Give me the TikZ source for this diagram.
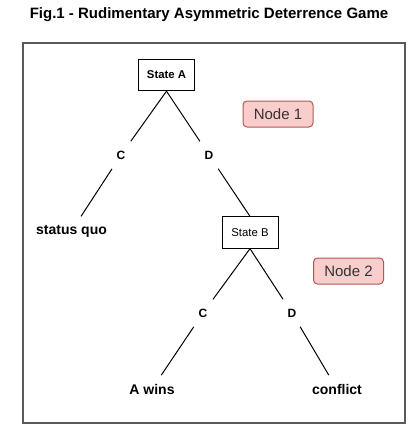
\documentclass[tikz,border=0pt]{standalone}
\usepackage{fontspec}
\setmainfont{Liberation Sans}
\definecolor{tagfill}{HTML}{F8CECC}
\definecolor{tagline}{HTML}{B85450}
\definecolor{tagtext}{HTML}{333333}
\begin{document}
\begin{tikzpicture}[x=0.75pt, y=-0.75pt,
  state/.style={draw, line width=0.75pt, minimum width=42pt, minimum height=23.5pt, inner sep=0pt, font=\fontsize{8.5}{10}\selectfont},
  move/.style={inner xsep=4pt, inner ysep=7pt, font=\bfseries\fontsize{9}{11}\selectfont},
  outcome/.style={inner xsep=2pt, inner ysep=6.3pt, font=\bfseries\fontsize{10.5}{12}\selectfont},
  tag/.style={draw=tagline, fill=tagfill, rounded corners=3pt, line width=0.75pt, minimum width=52.5pt, minimum height=19.5pt, text=tagtext, font=\fontsize{11.25}{13}\selectfont},
  branch/.style={line width=0.75pt}]
  \useasboundingbox (0,0) rectangle (418,425);
  \node[font=\bfseries\fontsize{11.25}{13}\selectfont] (title) at (209,15) {Fig.1 - Rudimentary Asymmetric Deterrence Game};
  \draw[line width=1pt, black!65] (23,43) rectangle (405,423);
  \node[state, font=\bfseries\fontsize{8.5}{10}\selectfont] (stateA) at (166.5,75) {State A};
  \node[tag] (node1) at (278,114) {Node 1};
  \node[move] (c1) at (121,155) {C};
  \node[move] (d1) at (209,155) {D};
  \node[outcome] (quo) at (71.5,231) {status quo};
  \node[state] (stateB) at (250,232.5) {State B};
  \node[tag] (node2) at (348.5,271) {Node 2};
  \node[move] (c2) at (203,313) {C};
  \node[move] (d2) at (292,313) {D};
  \node[outcome] (wins) at (152,389) {A wins};
  \node[outcome] (conflict) at (337,389) {conflict};
  \draw[branch] (stateA.south) -- (c1);
  \draw[branch] (stateA.south) -- (d1);
  \draw[branch] (c1) -- (quo);
  \draw[branch] (d1) -- (stateB.north);
  \draw[branch] (stateB.south) -- (c2);
  \draw[branch] (stateB.south) -- (d2);
  \draw[branch] (c2) -- (wins);
  \draw[branch] (d2) -- (conflict);
\end{tikzpicture}
\end{document}
